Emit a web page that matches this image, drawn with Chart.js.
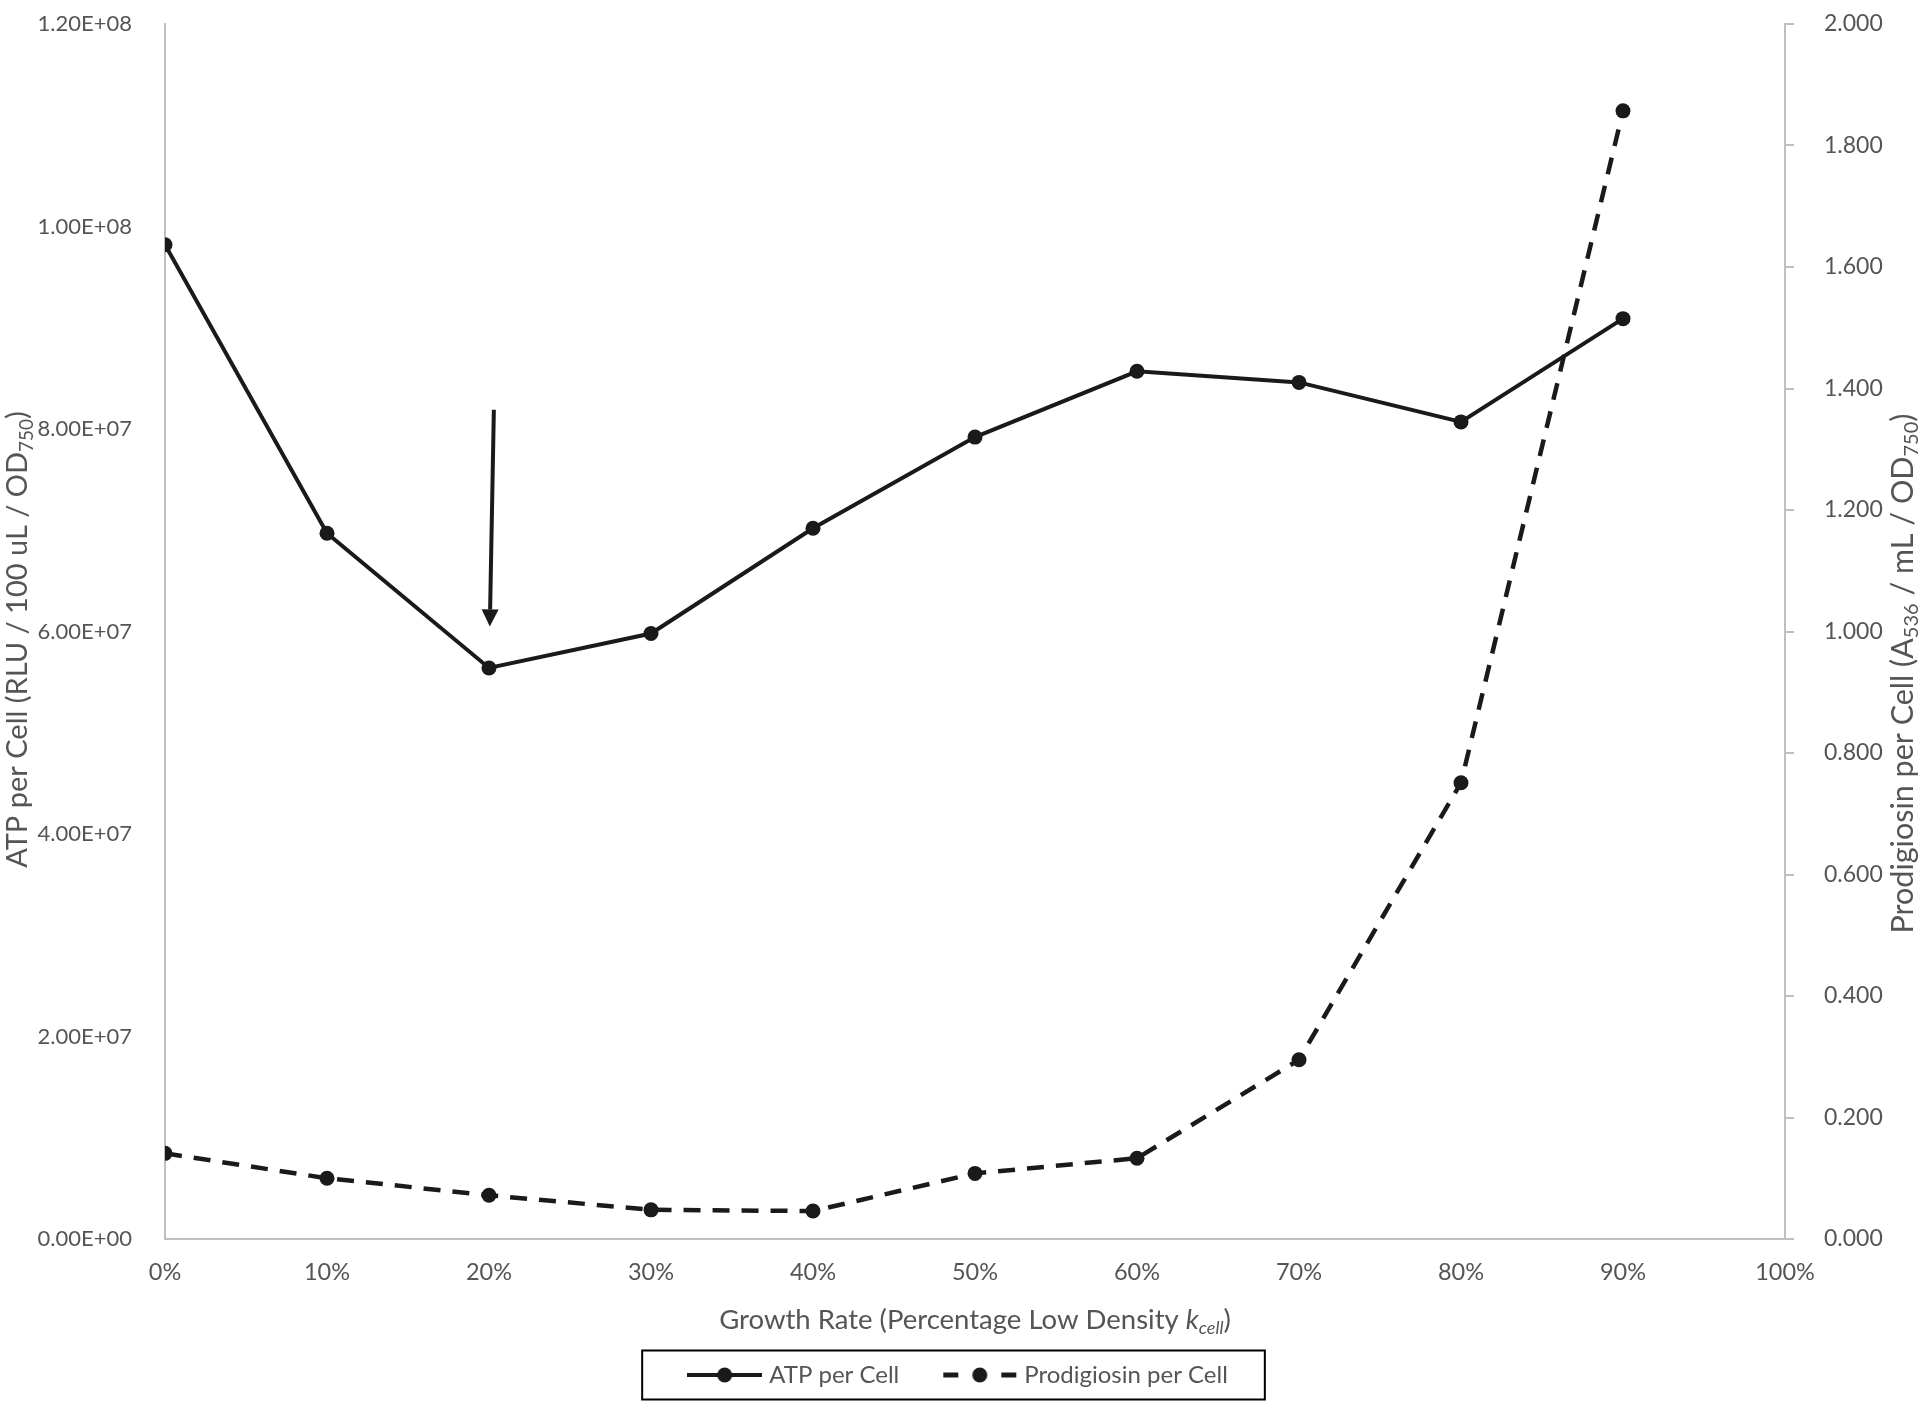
<!DOCTYPE html>
<html><head><meta charset="utf-8">
<script src="https://cdn.jsdelivr.net/npm/chart.js@4.4.1/dist/chart.umd.min.js"></script>
<style>html,body{margin:0;padding:0;background:#fff}canvas{display:block}</style>
</head><body>
<canvas id="c" width="1920" height="1408"></canvas>
<script>
// ---- data ----
const growthRate = [0, 10, 20, 30, 40, 50, 60, 70, 80, 90];
const atpPerCell = [9.82e7, 6.97e7, 5.64e7, 5.98e7, 7.02e7, 7.92e7, 8.57e7, 8.46e7, 8.07e7, 9.09e7];
const prodigiosinPerCell = [0.141, 0.100, 0.072, 0.048, 0.046, 0.108, 0.133, 0.295, 0.751, 1.857];
const seriesNames = ['ATP per Cell', 'Prodigiosin per Cell'];
const xTickValues = [0, 10, 20, 30, 40, 50, 60, 70, 80, 90, 100];
const leftTickValues = [0, 2e7, 4e7, 6e7, 8e7, 1e8, 1.2e8];
const rightTickValues = [0, 0.2, 0.4, 0.6, 0.8, 1.0, 1.2, 1.4, 1.6, 1.8, 2.0];
const arrowFrom = [20.3, 8.19e7];
const arrowTo = [20.05, 6.05e7];

// ---- style ----
const FONT = 'Lato, "Open Sans", sans-serif';
const TXT = '#555555';
const AXIS = '#bfbfbf';
const INK = '#1a1a1a';

function sci(v) {
  if (v === 0) return '0.00E+00';
  const e = Math.floor(Math.log10(v) + 1e-9);
  const m = v / Math.pow(10, e);
  return m.toFixed(2) + 'E+' + String(e).padStart(2, '0');
}

function makeMarker(dashed) {
  const c = document.createElement('canvas');
  c.width = 75; c.height = 18;
  const g = c.getContext('2d');
  g.strokeStyle = INK; g.fillStyle = INK;
  g.lineWidth = dashed ? 5 : 4;
  if (dashed) {
    g.beginPath(); g.moveTo(1, 9); g.lineTo(16, 9); g.stroke();
    g.beginPath(); g.moveTo(59, 9); g.lineTo(74, 9); g.stroke();
  } else {
    g.beginPath(); g.moveTo(0, 9); g.lineTo(75, 9); g.stroke();
  }
  g.beginPath(); g.arc(37.5, 9, 7.5, 0, Math.PI * 2); g.fill();
  return c;
}
const markers = [makeMarker(false), makeMarker(true)];

function drawRich(ctx, segs, size, cx, cy, rot) {
  const fontFor = (s) => (s.italic ? 'italic ' : '') + (s.sub ? Math.round(size * 0.65) : size) + 'px ' + FONT;
  let total = 0;
  segs.forEach(s => { ctx.font = fontFor(s); s.w = ctx.measureText(s.t).width; total += s.w; });
  ctx.save();
  ctx.translate(cx, cy);
  ctx.rotate(rot);
  ctx.fillStyle = TXT;
  ctx.textBaseline = 'alphabetic';
  ctx.textAlign = 'left';
  let x = -total / 2;
  const base = size * 0.36;
  segs.forEach(s => {
    ctx.font = fontFor(s);
    ctx.fillText(s.t, x, base + (s.sub ? size * 0.18 : 0));
    x += s.w;
  });
  ctx.restore();
}

const extrasPlugin = {
  id: 'extras',
  afterDraw(chart) {
    const ctx = chart.ctx;
    const a = chart.chartArea;
    const xs = chart.scales.x, yl = chart.scales.y;
    // arrow annotation
    const x1 = xs.getPixelForValue(arrowFrom[0]), y1 = yl.getPixelForValue(arrowFrom[1]);
    const x2 = xs.getPixelForValue(arrowTo[0]), y2 = yl.getPixelForValue(arrowTo[1]);
    const ang = Math.atan2(y2 - y1, x2 - x1);
    const hl = 17, hw = 8.5;
    const bx = x2 - hl * Math.cos(ang), by = y2 - hl * Math.sin(ang);
    ctx.save();
    ctx.strokeStyle = INK; ctx.fillStyle = INK; ctx.lineWidth = 4;
    ctx.beginPath(); ctx.moveTo(x1, y1); ctx.lineTo(bx, by); ctx.stroke();
    ctx.beginPath();
    ctx.moveTo(x2, y2);
    ctx.lineTo(bx + hw * Math.sin(ang), by - hw * Math.cos(ang));
    ctx.lineTo(bx - hw * Math.sin(ang), by + hw * Math.cos(ang));
    ctx.closePath(); ctx.fill();
    ctx.restore();
    // axis titles
    const midY = (a.top + a.bottom) / 2;
    drawRich(ctx, [{t: 'Growth Rate (Percentage Low Density '}, {t: 'k', italic: true}, {t: 'cell', italic: true, sub: true}, {t: ')'}],
      27.5, (a.left + a.right) / 2, a.bottom + 80, 0);
    drawRich(ctx, [{t: 'ATP per Cell (RLU / 100 uL / OD'}, {t: '750', sub: true}, {t: ')'}],
      29, 17, midY + 8, -Math.PI / 2);
    drawRich(ctx, [{t: 'Prodigiosin per Cell (A'}, {t: '536', sub: true}, {t: ' / mL / OD'}, {t: '750', sub: true}, {t: ')'}],
      30.5, 1902, midY + 42, -Math.PI / 2);
    // legend border
    const hb = chart.legend.legendHitBoxes;
    if (hb && hb.length) {
      let l = Infinity, r = -Infinity, cy = 0;
      hb.forEach(h => { l = Math.min(l, h.left); r = Math.max(r, h.left + h.width); cy += h.top + h.height / 2; });
      cy /= hb.length;
      ctx.save();
      ctx.strokeStyle = '#000'; ctx.lineWidth = 2;
      ctx.strokeRect(l - 50, cy - 24.5, (r + 37) - (l - 50), 49);
      ctx.restore();
    }
  }
};

const ds = (vals) => vals.map((v, i) => ({x: growthRate[i], y: v}));

new Chart(document.getElementById('c'), {
  type: 'line',
  data: {
    datasets: [
      {label: seriesNames[0], data: ds(atpPerCell), yAxisID: 'y', borderColor: INK, backgroundColor: INK,
       borderWidth: 4, pointRadius: 7.5, pointBorderWidth: 0, pointBackgroundColor: INK, tension: 0, fill: false},
      {label: seriesNames[1], data: ds(prodigiosinPerCell), yAxisID: 'y1', borderColor: INK, backgroundColor: INK,
       borderWidth: 4.5, borderDash: [17, 12], pointRadius: 7.5, pointBorderWidth: 0, pointBackgroundColor: INK, tension: 0, fill: false}
    ]
  },
  options: {
    responsive: false,
    animation: false,
    layout: {padding: {top: 24, bottom: 11, left: 0, right: 0}},
    plugins: {
      tooltip: {enabled: false},
      legend: {
        position: 'bottom',
        labels: {
          usePointStyle: true,
          pointStyleWidth: 65,
          padding: 48,
          color: TXT,
          font: {family: FONT, size: 24},
          generateLabels(chart) {
            return chart.data.datasets.map((d, i) => ({
              text: d.label, fillStyle: INK, strokeStyle: INK, lineWidth: 0,
              pointStyle: markers[i], hidden: false, datasetIndex: i, fontColor: TXT
            }));
          }
        }
      }
    },
    scales: {
      x: {
        type: 'linear', min: 0, max: 100,
        afterBuildTicks(s) { s.ticks = xTickValues.map(v => ({value: v})); },
        afterFit(s) { s.height = 76; },
        ticks: {callback: v => v + '%', color: TXT, font: {family: FONT, size: 23.5}, padding: 19, maxRotation: 0, autoSkip: false},
        grid: {display: false, drawTicks: false},
        border: {display: true, color: AXIS, width: 2}
      },
      y: {
        position: 'left', min: 0, max: 1.2e8,
        afterBuildTicks(s) { s.ticks = leftTickValues.map(v => ({value: v})); },
        afterFit(s) { s.width = 165; s.paddingTop = 0; s.paddingBottom = 0; },
        ticks: {callback: v => sci(v), color: TXT, font: {family: FONT, size: 22}, padding: 33},
        grid: {display: false, drawTicks: false},
        border: {display: true, color: AXIS, width: 2}
      },
      y1: {
        position: 'right', min: 0, max: 2,
        afterBuildTicks(s) { s.ticks = rightTickValues.map(v => ({value: v})); },
        afterFit(s) { s.width = 135; s.paddingTop = 0; s.paddingBottom = 0; },
        ticks: {callback: v => v.toFixed(3), color: TXT, font: {family: FONT, size: 23}, padding: 30},
        grid: {display: true, drawOnChartArea: false, drawTicks: true, tickLength: 9, color: AXIS, lineWidth: 2},
        border: {display: true, color: AXIS, width: 2}
      }
    }
  },
  plugins: [extrasPlugin]
});
</script>
</body></html>
